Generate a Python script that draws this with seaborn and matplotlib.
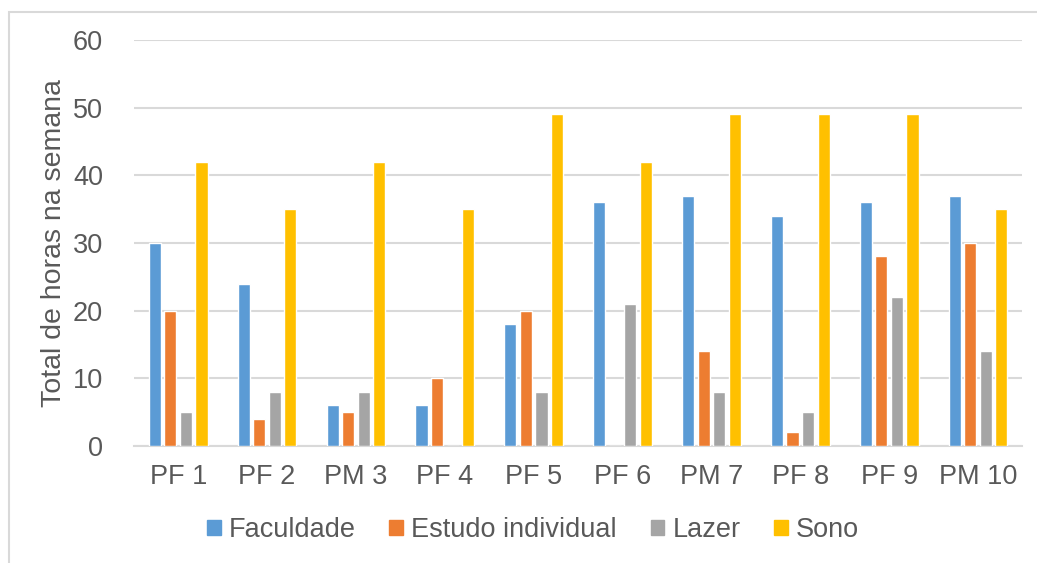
import pandas as pd
import matplotlib.pyplot as plt
import seaborn as sns
from matplotlib.patches import Rectangle

# ============================================================
# DATA
# ============================================================

participants = ["PF 1", "PF 2", "PM 3", "PF 4", "PF 5",
                "PF 6", "PM 7", "PF 8", "PF 9", "PM 10"]

faculdade = [30, 24, 6, 6, 18, 36, 37, 34, 36, 37]
estudo_individual = [20, 4, 5, 10, 20, 0, 14, 2, 28, 30]
lazer = [5, 8, 8, 0, 8, 21, 8, 5, 22, 14]
sono = [42, 35, 42, 35, 49, 42, 49, 49, 49, 35]

series_names = ["Faculdade", "Estudo individual", "Lazer", "Sono"]
colors = ["#5B9BD5", "#ED7D31", "#A5A5A5", "#FFC000"]

df = pd.DataFrame({
    "participante": participants * 4,
    "atividade": [s for s in series_names for _ in participants],
    "horas": faculdade + estudo_individual + lazer + sono,
})

# ============================================================
# PLOT
# ============================================================

sns.set_style("white")
plt.rcParams["font.family"] = ["Liberation Sans", "DejaVu Sans"]

text_color = "#595959"
grid_color = "#D9D9D9"

fig = plt.figure(figsize=(10.37, 5.63), dpi=100)
ax = fig.add_axes([0.129, 0.208, 0.857, 0.721])

sns.barplot(
    data=df,
    x="participante",
    y="horas",
    hue="atividade",
    hue_order=series_names,
    palette=colors,
    width=0.7,
    saturation=1,
    errorbar=None,
    ax=ax,
    zorder=3,
)

# thin gaps between bars in a group
for p in ax.patches:
    w = p.get_width()
    if w == 0:
        continue
    cx = p.get_x() + w / 2
    p.set_width(w * 0.78)
    p.set_x(cx - w * 0.78 / 2)

ax.set_ylim(0, 60)
ax.set_yticks(range(0, 61, 10))
ax.set_xlim(-0.5, len(participants) - 0.5)
ax.yaxis.grid(True, color=grid_color, linewidth=1.5, zorder=0)
ax.set_axisbelow(True)

for side in ["top", "right", "left"]:
    ax.spines[side].set_visible(False)
ax.spines["bottom"].set_color(grid_color)
ax.spines["bottom"].set_linewidth(1.5)

ax.tick_params(axis="both", length=0, labelsize=19.5, labelcolor=text_color)
ax.tick_params(axis="x", pad=13)
ax.tick_params(axis="y", pad=22)

ax.set_xlabel("")
ax.set_ylabel("Total de horas na semana", fontsize=20.5, color=text_color,
              labelpad=4)

ax.get_legend().remove()
handles = [Rectangle((0, 0), 1, 1, color=c) for c in colors]
fig.legend(
    handles, series_names,
    loc="center",
    bbox_to_anchor=(0.514, 0.058),
    ncol=4,
    frameon=False,
    fontsize=19.5,
    labelcolor=text_color,
    handlelength=0.5,
    handleheight=0.5,
    handletextpad=0.3,
    columnspacing=1.25,
)

# light frame around the chart area
fig.add_artist(Rectangle(
    (9 / 1037, -0.05), 1.2, 1.05 - 12 / 563,
    transform=fig.transFigure,
    fill=False, edgecolor=grid_color, linewidth=1.5,
))

fig.savefig("out.png", dpi=100)
